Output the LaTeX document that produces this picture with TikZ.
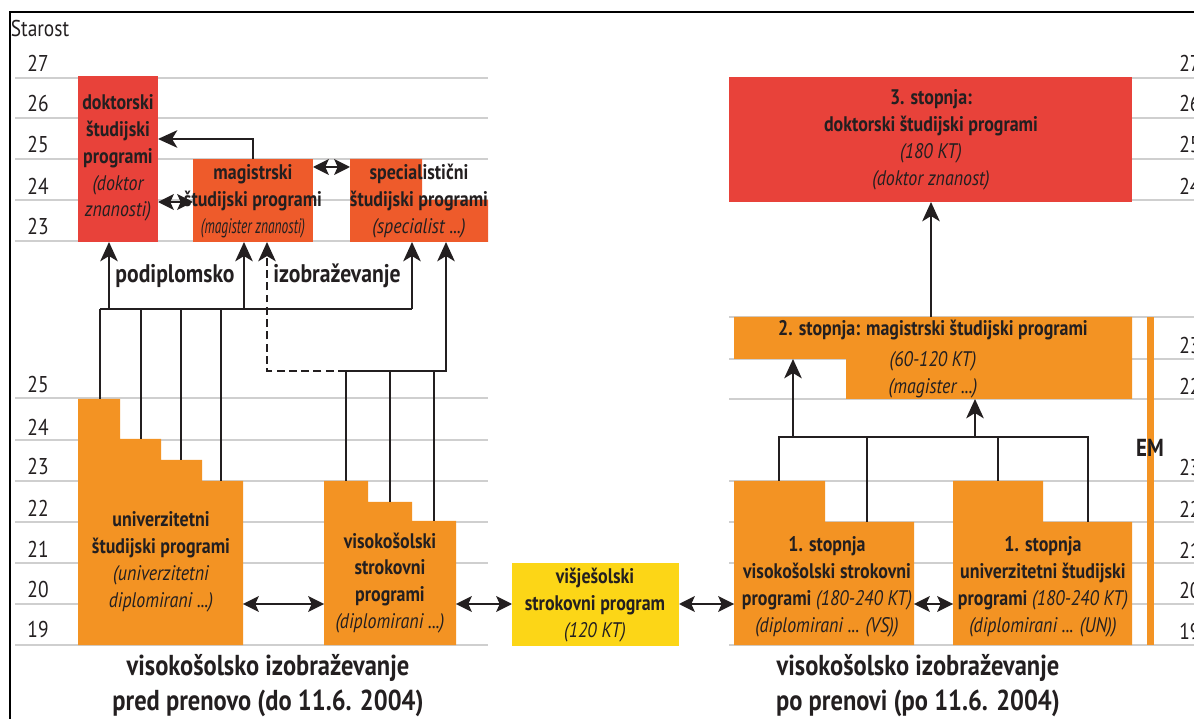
\documentclass[tikz,border=0pt]{standalone}
\usepackage{fontspec}
\setmainfont{PT Sans}[FakeStretch=0.85]
\usetikzlibrary{arrows.meta}

\definecolor{ink}{HTML}{231F20}
\definecolor{drred}{HTML}{E8423A}
\definecolor{mgred}{HTML}{EE5B2B}
\definecolor{orng}{HTML}{F39323}
\definecolor{yllw}{HTML}{FCD617}
\definecolor{agegrey}{HTML}{CFCFCF}

\tikzset{
  ageline/.style={agegrey, line width=1.1pt},
  conn/.style={ink, line width=1.1pt},
  up/.style={conn, -{Stealth[length=11pt,width=10pt,inset=3pt]}},
  both/.style={conn, {Stealth[length=9pt,width=9pt,inset=2pt]}-{Stealth[length=9pt,width=9pt,inset=2pt]}},
  agelbl/.style={font=\fontsize{13}{15}\selectfont, text=ink, inner sep=0pt},
  boxtxt/.style={font=\fontsize{12}{15.3}\selectfont\bfseries, text=ink, align=center, inner sep=0pt},
  midtxt/.style={font=\fontsize{14.5}{18}\selectfont\bfseries, text=ink, inner sep=0pt},
  ttl/.style={font=\fontsize{16.4}{19.8}\selectfont\bfseries, text=ink, align=center, inner sep=0pt},
}
\newcommand{\ital}[1]{{\mdseries\itshape #1}}

\begin{document}
\begin{tikzpicture}[x=0.02cm,y=-0.02cm]
\useasboundingbox (0,0) rectangle (1194,719);
\clip (0,0) rectangle (1194,719);

% frame
\draw[line width=1.2pt] (10,719) -- (10,12) -- (1194,12);

% age lines
\foreach \y in {78,118,159,200,241,398,440,481,522,563,604,645}
  \draw[ageline] (15,\y) -- (488,\y);
\foreach \y in {78,118,159,200,317,359,399,481,522,563,604,645}
  \draw[ageline] (729,\y) -- (1194,\y);

% age labels
\node[agelbl] (starost) at (40,29) {Starost};
\foreach \a/\y in {27/63,26/104,25/145,24/186,23/227}
  \node[agelbl] (lu\a) at (38,\y) {\a};
\foreach \a/\y in {25/385,24/427,23/467,22/508,21/549,20/590,19/630}
  \node[agelbl] (ll\a) at (38,\y) {\a};
\foreach \a/\y in {27/63,26/104,25/145,24/186}
  \node[agelbl, anchor=west] (ru\a) at (1179,\y) {\a};
\foreach \a/\y in {23/346,22/386,23/468,22/509,21/550,20/591,19/632}
  \node[agelbl, anchor=west] (rl\a\y) at (1179,\y) {\a};

% --- pred prenovo ---
\fill[drred] (78,76) rectangle (158,242);
\fill[mgred] (193,159) rectangle (313,242);
\fill[mgred] (350,159) -- (422,159) -- (422,200) -- (488,200) -- (488,242) -- (350,242) -- cycle;
\fill[orng] (78,399) -- (120,399) -- (120,439) -- (161,439) -- (161,460) -- (202,460)
  -- (202,481) -- (243,481) -- (243,645) -- (78,645) -- cycle;
\fill[orng] (324,481) -- (368,481) -- (368,502) -- (412,502) -- (412,521) -- (456,521)
  -- (456,645) -- (324,645) -- cycle;
\fill[yllw] (512,563) rectangle (679,646);

\node[boxtxt] (dok) at (118,158) {doktorski\\študijski\\programi\\\ital{(doktor}\\\ital{znanosti)}};
\node[boxtxt] (mag) at (253,201) {magistrski\\študijski programi\\\ital{\scalebox{0.75}[1]{(magister znanosti)}}};
\node[boxtxt] (spec) at (419,201) {specialistični\\študijski programi\\\ital{(specialist ...)}};
\node[boxtxt] (uni) at (161,562) {univerzitetni\\študijski programi\\\ital{(univerzitetni}\\\ital{diplomirani ...)}};
\node[boxtxt] (vso) at (390,583) {visokošolski\\strokovni\\programi\\\ital{(diplomirani ...)}};
\node[boxtxt] (vss) at (595,605) {višješolski\\strokovni program\\\ital{(120 KT)}};

\node[midtxt] (podipl) at (175,276) {podiplomsko};
\node[midtxt] (izobr) at (337,276) {izobraževanje};

% connection points
\coordinate (bus) at (0,309);
\coordinate (bus2) at (0,371);
\coordinate (u1) at (100,399);
\coordinate (u2) at (141,439);
\coordinate (u3) at (181,460);
\coordinate (u4) at (221,481);
\coordinate (v1) at (346,481);
\coordinate (v2) at (390,502);
\coordinate (v3) at (434,521);
\coordinate (dok-in) at (109,242);
\coordinate (mag-in) at (244,242);
\coordinate (mag-in2) at (267,242);
\coordinate (spec-in) at (412,242);
\coordinate (spec-in2) at (446,242);

\foreach \p in {u1,u2,u3,u4}
  \draw[conn] (\p) -- (\p |- bus);
\draw[conn] (u1 |- bus) -- (spec-in |- bus);
\draw[up] (dok-in |- bus) -- (dok-in);
\draw[up] (mag-in |- bus) -- (mag-in);
\draw[up] (spec-in |- bus) -- (spec-in);

\foreach \p in {v1,v2,v3}
  \draw[conn] (\p) -- (\p |- bus2);
\draw[up] (v1 |- bus2) -- (spec-in2 |- bus2) -- (spec-in2);
\draw[up, dash pattern=on 4.5pt off 2.5pt] (v1 |- bus2) -- (mag-in2 |- bus2) -- (mag-in2);

\draw[up] (253,159) coordinate (mag-out) |- (158,139) coordinate (dok-side);
\draw[both] (158,202) coordinate (dok-r) -- (193,202) coordinate (mag-l);
\draw[both] (313,167) coordinate (mag-r) -- (350,167) coordinate (spec-l);
\draw[both] (243,604) coordinate (uni-r) -- (324,604) coordinate (vso-l);
\draw[both] (456,604) coordinate (vso-r) -- (512,604) coordinate (vss-l);

% --- po prenovi ---
\fill[drred] (729,77) rectangle (1132,202);
\fill[orng] (734,317) -- (1132,317) -- (1132,399) -- (846,399) -- (846,359) -- (734,359) -- cycle;
\fill[orng] (734,481) -- (825,481) -- (825,522) -- (914,522) -- (914,645) -- (734,645) -- cycle;
\fill[orng] (953,481) -- (1043,481) -- (1043,522) -- (1132,522) -- (1132,645) -- (953,645) -- cycle;
\fill[orng] (1147,317) rectangle (1154,645);

\node[boxtxt] (st3) at (931,140) {3. stopnja:\\doktorski študijski programi\\\ital{(180 KT)}\\\ital{(doktor znanost)}};
\node[boxtxt] (st2) at (933,330) {2. stopnja: magistrski študijski programi};
\node[boxtxt] (st2kt) at (933,375) {\ital{(60-120 KT)}\\\ital{(magister ...)}};
\node[boxtxt] (st1vs) at (827,587) {1. stopnja\\visokošolski strokovni\\programi \ital{(180-240 KT)}\\\ital{(diplomirani ... (VS))}};
\node[boxtxt] (st1un) at (1043,587) {1. stopnja\\univerzitetni študijski\\programi \ital{(180-240 KT)}\\\ital{(diplomirani ... (UN))}};
\node[boxtxt, font=\fontsize{14}{16}\selectfont\bfseries] (em) at (1150,448) {EM};

\coordinate (rbus) at (0,437);
\coordinate (r1) at (779,481);
\coordinate (r2) at (867,522);
\coordinate (r3) at (998,481);
\coordinate (r4) at (1088,522);
\coordinate (st2-in) at (793,359);
\coordinate (st2-in2) at (975,399);
\coordinate (st2-out) at (931,317);
\coordinate (st3-in) at (931,202);

\draw[conn] (r1) -- (r1 |- rbus) -- (r4 |- rbus) -- (r4);
\draw[conn] (r2) -- (r2 |- rbus);
\draw[conn] (r3) -- (r3 |- rbus);
\draw[up] (st2-in |- rbus) -- (st2-in);
\draw[up] (st2-in2 |- rbus) -- (st2-in2);
\draw[up] (st2-out) -- (st3-in);

\draw[both] (679,604) coordinate (vss-r) -- (734,604) coordinate (st1vs-l);
\draw[both] (914,604) coordinate (st1vs-r) -- (953,604) coordinate (st1un-l);

% titles
\node[ttl] (pred) at (268,686) {visokošolsko izobraževanje\\pred prenovo (do 11.6. 2004)};
\node[ttl] (po) at (918,686) {visokošolsko izobraževanje\\po prenovi (po 11.6. 2004)};
\end{tikzpicture}
\end{document}
